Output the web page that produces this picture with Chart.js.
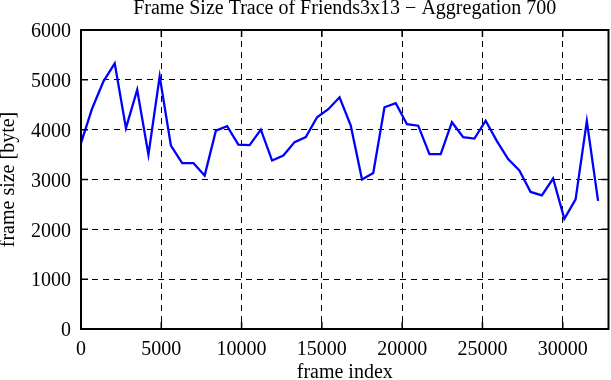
<!DOCTYPE html>
<html lang="en">
<head>
    <meta charset="UTF-8">
    <title>Frame Size Trace of Friends3x13</title>
    <style>
        html, body { margin: 0; padding: 0; background: #fff; }
        #wrap { width: 611px; height: 380px; }
    </style>
</head>
<body>
    <div id="wrap">
        <canvas id="traceChart" width="611" height="380"></canvas>
    </div>

    <script src="https://cdn.jsdelivr.net/npm/chart.js"></script>
    <script>
        // frame index (start of each 700-frame window)
        const frameIndex = [
            0, 700, 1400, 2100, 2800, 3500, 4200, 4900, 5600, 6300,
            7000, 7700, 8400, 9100, 9800, 10500, 11200, 11900, 12600, 13300,
            14000, 14700, 15400, 16100, 16800, 17500, 18200, 18900, 19600, 20300,
            21000, 21700, 22400, 23100, 23800, 24500, 25200, 25900, 26600, 27300,
            28000, 28700, 29400, 30100, 30800, 31500, 32200
        ];
        // mean frame size in bytes
        const frameSize = [
            3730, 4430, 4970, 5330, 4030, 4800, 3500, 5070, 3680, 3330,
            3330, 3080, 3980, 4070, 3700, 3690, 4000, 3380, 3480, 3750,
            3850, 4250, 4410, 4650, 4080, 3000, 3130, 4450, 4530, 4110,
            4080, 3510, 3510, 4150, 3850, 3820, 4180, 3770, 3410, 3180,
            2750, 2680, 3020, 2210, 2600, 4170, 2570
        ];
        const xTicks = [0, 5000, 10000, 15000, 20000, 25000, 30000];
        const yTicks = [0, 1000, 2000, 3000, 4000, 5000, 6000];

        const serif = '"Liberation Serif", "DejaVu Serif", serif';

        // frame box and inward tick marks, like gnuplot
        const boxPlugin = {
            id: 'box',
            afterDraw(chart) {
                const { ctx, chartArea: a, scales } = chart;
                ctx.save();
                ctx.strokeStyle = '#000';
                ctx.lineWidth = 1.5;
                ctx.beginPath();
                xTicks.forEach(v => {
                    const px = scales.x.getPixelForValue(v);
                    ctx.moveTo(px, a.bottom); ctx.lineTo(px, a.bottom - 7);
                    ctx.moveTo(px, a.top); ctx.lineTo(px, a.top + 7);
                });
                yTicks.forEach(v => {
                    const py = scales.y.getPixelForValue(v);
                    ctx.moveTo(a.left, py); ctx.lineTo(a.left + 7, py);
                    ctx.moveTo(a.right, py); ctx.lineTo(a.right - 7, py);
                });
                ctx.stroke();
                ctx.lineWidth = 2;
                ctx.strokeRect(a.left, a.top, a.right - a.left, a.bottom - a.top);
                ctx.restore();
            }
        };

        const ctx = document.getElementById('traceChart').getContext('2d');
        new Chart(ctx, {
            type: 'line',
            data: {
                datasets: [{
                    data: frameIndex.map((x, i) => ({ x: x, y: frameSize[i] })),
                    borderColor: '#0000ff',
                    borderWidth: 2.3,
                    pointRadius: 0,
                    tension: 0,
                    fill: false
                }]
            },
            options: {
                responsive: false,
                devicePixelRatio: 1,
                animation: false,
                layout: { padding: { left: 0, right: 2.5, top: 0, bottom: 0 } },
                scales: {
                    x: {
                        type: 'linear',
                        min: 0,
                        max: 32850,
                        afterBuildTicks: s => { s.ticks = xTicks.map(v => ({ value: v })); },
                        afterFit: s => { s.height = 51; },
                        ticks: {
                            color: '#000',
                            padding: 9,
                            maxRotation: 0,
                            autoSkip: false,
                            font: { family: serif, size: 20 },
                            callback: v => String(v)
                        },
                        grid: { color: '#000', lineWidth: 1, drawTicks: false },
                        border: { display: false, dash: [6, 5] },
                        title: {
                            display: true,
                            text: 'frame index',
                            color: '#000',
                            padding: { top: 0, bottom: 1 },
                            font: { family: serif, size: 20, lineHeight: 0.6 }
                        }
                    },
                    y: {
                        min: 0,
                        max: 6000,
                        afterBuildTicks: s => { s.ticks = yTicks.map(v => ({ value: v })); },
                        afterFit: s => { s.width = 81; },
                        ticks: {
                            color: '#000',
                            padding: 10,
                            labelOffset: 2,
                            font: { family: serif, size: 20 },
                            callback: v => String(v)
                        },
                        grid: { color: '#000', lineWidth: 1, drawTicks: false },
                        border: { display: false, dash: [6, 5] },
                        title: {
                            display: true,
                            text: 'frame size [byte]',
                            color: '#000',
                            padding: { top: 0, bottom: 0 },
                            font: { family: serif, size: 20, lineHeight: 0.9 }
                        }
                    }
                },
                plugins: {
                    legend: { display: false },
                    tooltip: { enabled: false },
                    title: {
                        display: true,
                        fullSize: false,
                        text: 'Frame Size Trace of Friends3x13 \u2212 Aggregation 700',
                        color: '#000',
                        padding: { top: 0, bottom: 12 },
                        font: { family: serif, size: 20, weight: 'normal', lineHeight: 0.9 }
                    }
                }
            },
            plugins: [boxPlugin]
        });
    </script>
</body>
</html>
